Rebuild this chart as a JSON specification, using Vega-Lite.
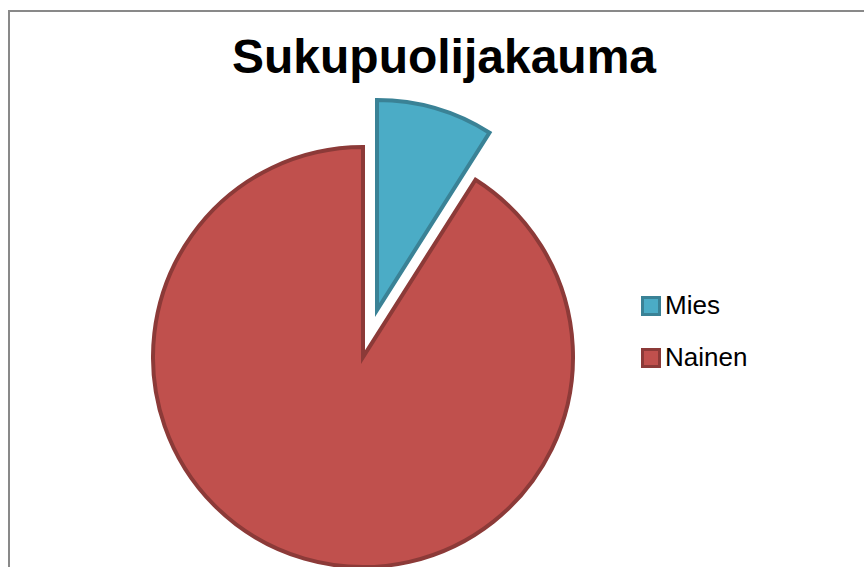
{
  "$schema": "https://vega.github.io/schema/vega-lite/v6.json",
  "autosize": "none",
  "padding": {"left": 9, "top": 11, "right": 0, "bottom": 0},
  "width": 870,
  "height": 692,
  "background": "white",
  "view": {"stroke": "#898989", "strokeWidth": 2},
  "title": {
    "text": "Sukupuolijakauma",
    "font": "Liberation Sans",
    "fontSize": 48,
    "fontWeight": "bold",
    "color": "#000000",
    "anchor": "middle",
    "orient": "top",
    "baseline": "alphabetic",
    "offset": -110
  },
  "config": {
    "view": {"stroke": "#898989", "strokeWidth": 2},
    "font": "Liberation Sans"
  },
  "data": {
    "values": [
      {"sukupuoli": "Mies", "osuus": 9},
      {"sukupuoli": "Nainen", "osuus": 91}
    ]
  },
  "transform": [
    {"stack": "osuus", "groupby": [], "as": ["alku", "loppu"], "sort": [{"field": "sukupuoli", "order": "ascending"}]}
  ],
  "encoding": {
    "theta": {"field": "alku", "type": "quantitative", "scale": {"domain": [0, 100]}},
    "theta2": {"field": "loppu"},
    "fill": {
      "field": "sukupuoli", "type": "nominal",
      "scale": {"domain": ["Mies", "Nainen"], "range": ["#4BACC6", "#C0504D"]},
      "legend": {
        "title": null, "orient": "none", "legendX": 629, "legendY": 282,
        "symbolType": "square", "symbolSize": 289, "symbolStrokeWidth": 3,
        "labelFontSize": 26, "labelFont": "Liberation Sans", "labelColor": "#000000",
        "labelOffset": 1, "rowPadding": 22, "padding": 0
      }
    },
    "stroke": {
      "field": "sukupuoli", "type": "nominal",
      "scale": {"domain": ["Mies", "Nainen"], "range": ["#3A8296", "#8C3A38"]},
      "legend": {
        "title": null, "orient": "none", "legendX": 629, "legendY": 282,
        "symbolType": "square", "symbolSize": 289, "symbolStrokeWidth": 3,
        "labelFontSize": 26, "labelFont": "Liberation Sans", "labelColor": "#000000",
        "labelOffset": 1, "rowPadding": 22, "padding": 0
      }
    }
  },
  "layer": [
    {
      "transform": [{"filter": "datum.sukupuoli === 'Nainen'"}],
      "mark": {"type": "arc", "outerRadius": 210, "strokeWidth": 4, "strokeJoin": "miter", "xOffset": -81, "yOffset": 0}
    },
    {
      "transform": [{"filter": "datum.sukupuoli === 'Mies'"}],
      "mark": {"type": "arc", "outerRadius": 210, "strokeWidth": 4, "strokeJoin": "miter", "xOffset": -67, "yOffset": -47}
    }
  ]
}
